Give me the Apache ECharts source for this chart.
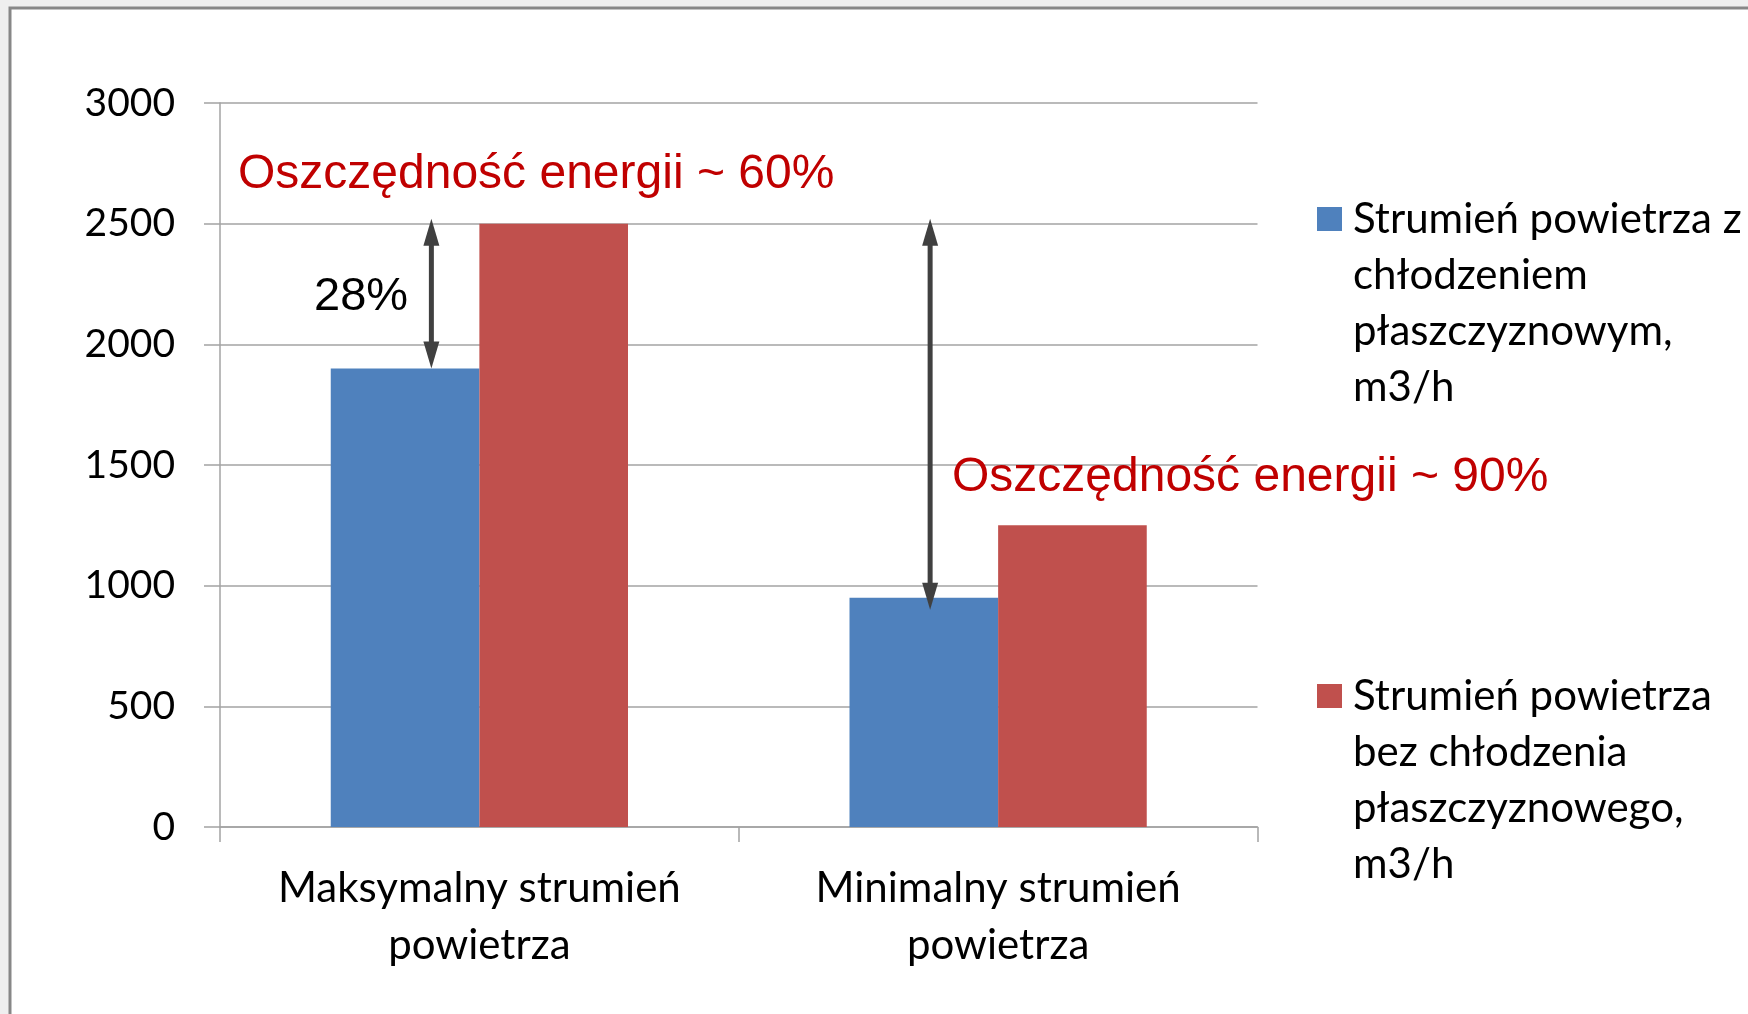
<!DOCTYPE html>
<html><head><meta charset="utf-8">
<script src="https://cdn.jsdelivr.net/npm/echarts@6/dist/echarts.min.js"></script>
<style>html,body{margin:0;padding:0;background:#efefef}#c{width:1748px;height:1014px}</style>
</head><body><div id="c"></div>
<script>
// ---- data ----
const categories = ['Maksymalny strumień\npowietrza', 'Minimalny strumień\npowietrza'];
const seriesNames = ['Strumień powietrza z chłodzeniem płaszczyznowym, m3/h',
                     'Strumień powietrza bez chłodzenia płaszczyznowego, m3/h'];
const legendLabels = ['Strumień powietrza z\nchłodzeniem\npłaszczyznowym,\nm3/h',
                      'Strumień powietrza\nbez chłodzenia\npłaszczyznowego,\nm3/h'];
const withCooling = [1900, 950];
const withoutCooling = [2500, 1250];
const yMin = 0, yMax = 3000, yStep = 500;
const arrowFrom = [1900, 900];
const arrowTo = [2520, 2520];
const annotationTexts = ['Oszczędność energii ~ 60%', 'Oszczędność energii ~ 90%', '28%'];

// ---- layout / style (not data) ----
const arrowOffsetPx = [-48, -68];
const axisGray = '#a3a3a3';
const blue = '#4F81BD', red = '#C0504D';
const labelFont = 'Lato';

const chart = echarts.init(document.getElementById('c'), null, {renderer: 'canvas'});

function legendFor(i, top) {
  return {
    data: [seriesNames[i]], orient: 'vertical', left: 1317, top: top, padding: 0,
    itemWidth: 25, itemHeight: 24, icon: 'rect', selectedMode: false,
    formatter: () => '\n\n\n' + legendLabels[i],
    textStyle: {fontFamily: labelFont, fontSize: 42, color: '#000', lineHeight: 56, padding: [0, 0, 0, 6]}
  };
}

const option = {
  backgroundColor: '#efefef',
  animation: false,
  grid: {left: 220, right: 490.5, top: 103, bottom: 187, containLabel: false},
  legend: [legendFor(0, 23), legendFor(1, 500)],
  xAxis: {
    type: 'category', data: categories,
    axisLine: {lineStyle: {color: axisGray, width: 1.5}},
    axisTick: {show: true, interval: 0, length: 15, lineStyle: {color: axisGray, width: 1.5}},
    axisLabel: {interval: 0, fontFamily: labelFont, fontSize: 42, color: '#000', lineHeight: 57, margin: 33, verticalAlign: 'top'}
  },
  yAxis: {
    type: 'value', min: yMin, max: yMax, interval: yStep,
    axisLine: {show: true, lineStyle: {color: axisGray, width: 1.5}},
    axisTick: {show: true, length: 16, lineStyle: {color: axisGray, width: 1.5}},
    splitLine: {lineStyle: {color: axisGray, width: 1.5}},
    axisLabel: {fontFamily: labelFont, fontSize: 39, color: '#000', margin: 45, formatter: v => String(v)}
  },
  graphic: [
    {type: 'rect', z: -10, shape: {x: 10, y: 8, width: 1900, height: 1200},
     style: {fill: '#ffffff', stroke: '#878787', lineWidth: 3}},
    {type: 'text', z: 100, x: 238, y: 175,
     style: {text: annotationTexts[0], font: '48px "Liberation Sans"', fill: '#C00000', verticalAlign: 'middle'}},
    {type: 'text', z: 100, x: 952, y: 478,
     style: {text: annotationTexts[1], font: '48px "Liberation Sans"', fill: '#C00000', verticalAlign: 'middle'}},
    {type: 'text', z: 100, x: 314, y: 297,
     style: {text: annotationTexts[2], font: '47px "Liberation Sans"', fill: '#000000', verticalAlign: 'middle'}}
  ],
  series: [
    {name: seriesNames[0], type: 'bar', data: withCooling, barGap: '0%', barCategoryGap: '42.7%',
     itemStyle: {color: blue}},
    {name: seriesNames[1], type: 'bar', data: withoutCooling, barGap: '0%', barCategoryGap: '42.7%',
     itemStyle: {color: red}},
    {type: 'custom', z: 10, silent: true,
     data: arrowFrom.map((v, i) => [i, v, arrowTo[i]]),
     encode: {x: 0, y: [1, 2]},
     renderItem: function (params, api) {
       const i = params.dataIndex;
       const pB = api.coord([api.value(0), api.value(1)]);
       const pT = api.coord([api.value(0), api.value(2)]);
       const x = pB[0] + arrowOffsetPx[i];
       const yB = pB[1], yT = pT[1];
       const hl = 27, hw = 8, c = '#404040';
       return {type: 'group', children: [
         {type: 'line', shape: {x1: x, y1: yT + hl - 2, x2: x, y2: yB - hl + 2}, style: {stroke: c, lineWidth: 5}},
         {type: 'polygon', shape: {points: [[x, yT], [x - hw, yT + hl], [x + hw, yT + hl]]}, style: {fill: c}},
         {type: 'polygon', shape: {points: [[x, yB], [x - hw, yB - hl], [x + hw, yB - hl]]}, style: {fill: c}}
       ]};
     }}
  ]
};
chart.setOption(option);
</script>
</body></html>
